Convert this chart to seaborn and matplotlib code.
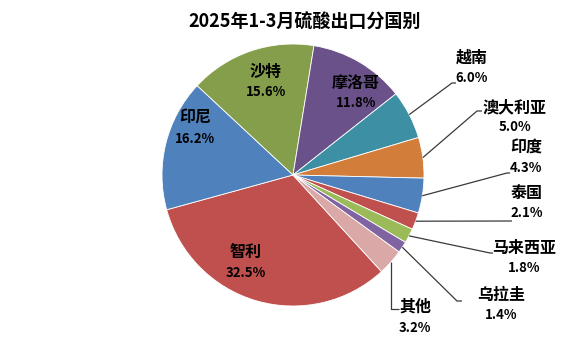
import matplotlib
matplotlib.use("Agg")
import matplotlib.pyplot as plt
import numpy as np
import seaborn as sns

# Sulphuric acid exports by destination, Jan–Mar 2025 (share, %)
countries = ["智利", "印尼", "沙特", "摩洛哥", "越南", "澳大利亚", "印度", "泰国", "马来西亚", "乌拉圭", "其他"]
shares = [32.5, 16.2, 15.6, 11.8, 6.0, 5.0, 4.3, 2.1, 1.8, 1.4, 3.2]
title = "2025年1-3月硫酸出口分国别"

colors = sns.color_palette([
    "#C0504D", "#4F81BD", "#849E4B", "#6A5189", "#3D8FA4", "#D27D3A",
    "#4F81BD", "#C0504D", "#9BBB59", "#8064A2", "#D9A8A7",
])

sns.set_theme(style="white")
plt.rcParams["font.family"] = ["Noto Sans CJK SC", "DejaVu Sans"]

W, H = 567, 339
fig = plt.figure(figsize=(W / 100, H / 100), dpi=100)
fig.patch.set_facecolor("white")
ax = fig.add_axes([0, 0, 1, 1])

cx, cy, R = 293, H - 175, 131
start = 90 - 137.5
wedges, _ = ax.pie(
    shares, colors=colors, startangle=start, counterclock=False,
    center=(cx, cy), radius=R,
    wedgeprops=dict(edgecolor="white", linewidth=0.6),
)
ax.set_xlim(0, W)
ax.set_ylim(0, H)
ax.set_aspect("equal")
ax.axis("off")

fig.text(305 / W, 1 - 22 / H, title, ha="center", va="center",
         fontsize=13, fontweight="bold", color="black")

name_fs, pct_fs = 11.5, 9.5

def label(name, pct, x, y_name, y_pct, xp=None):
    ax.text(x, H - y_name, name, ha="center", va="center",
            fontsize=name_fs, fontweight="bold", color="black")
    ax.text(x if xp is None else xp, H - y_pct, f"{pct:.1f}%", ha="center", va="center",
            fontsize=pct_fs, fontweight="bold", color="black")

# labels placed inside the large slices
inside = {"沙特": (266, 72, 92), "摩洛哥": (356, 83, 103),
          "印尼": (195, 118, 139), "智利": (246, 252, 273)}
# labels outside with leader lines: text x, name y, pct y, elbow, end
outside = {
    "越南": (472, 58, 78, (452, 83), (456, 83)),
    "澳大利亚": (515, 107, 127, (477, 111), (482, 111)),
    "印度": (526, 148, 168, (507, 173), (510, 173)),
    "泰国": (527, 193, 213, None, (512, 221)),
    "马来西亚": (524, 248, 268, (490, 253), (493, 253)),
    "乌拉圭": (501, 295, 315, (457, 301), (462, 301)),
    "其他": (415, 307, 328, None, None),
}

total = sum(shares)
for w, name, val in zip(wedges, countries, shares):
    if name in inside:
        x, yn, yp = inside[name]
        label(name, val, x, yn, yp)
        continue
    x, yn, yp, elbow, end = outside[name]
    mid = np.deg2rad((w.theta1 + w.theta2) / 2)
    ex, ey = cx + R * np.cos(mid), cy + R * np.sin(mid)
    if name == "其他":
        pts = [(ex, ey), (ex, H - 309), (ex + 8, H - 309)]
    elif elbow is None:
        pts = [(ex, ey), (end[0], H - end[1])]
    else:
        pts = [(ex, ey), (elbow[0], H - elbow[1]), (end[0], H - end[1])]
    xs, ys = zip(*pts)
    ax.plot(xs, ys, color="#3a3a3a", linewidth=0.9, solid_capstyle="butt")
    label(name, val, x, yn, yp)

fig.savefig("out.png", dpi=100, facecolor="white")
